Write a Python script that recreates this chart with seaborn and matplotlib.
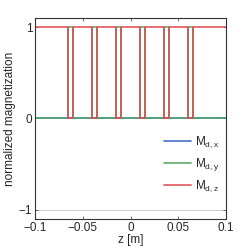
import matplotlib
matplotlib.use('Agg')
import matplotlib.pyplot as plt
import seaborn as sns
import numpy as np
import pandas as pd

# step edges (z in m) and component values after each edge
z_edges = [-0.1, -0.065, -0.06, -0.04, -0.035, -0.015, -0.01,
           0.01, 0.015, 0.035, 0.04, 0.06, 0.065, 0.1]
mdx = [0, 0, 0, 0, 0, 0, 0, 0, 0, 0, 0, 0, 0, 0]
mdy = [0, 1, 0, 1, 0, 1, 0, 1, 0, 1, 0, 1, 0, 0]
mdz = [1, 0, 1, 0, 1, 0, 1, 0, 1, 0, 1, 0, 1, 1]

labels = [r'M$_{\mathrm{d,x}}$', r'M$_{\mathrm{d,y}}$', r'M$_{\mathrm{d,z}}$']
colors = ['#3a66c4', '#52a762', '#df4a4f']

sns.set_style('ticks')
plt.rcParams['font.family'] = ['Liberation Sans', 'DejaVu Sans']
plt.rcParams['mathtext.fontset'] = 'custom'
plt.rcParams['mathtext.rm'] = 'Liberation Sans'
plt.rcParams['mathtext.it'] = 'Liberation Sans'

fig = plt.figure(figsize=(2.49, 2.49), dpi=100)
ax = fig.add_axes([35 / 249, 1 - 219 / 249, 191 / 249, 201 / 249])

ax.axhline(-1, color='#cccccc', lw=0.8, zorder=0)

for vals, lab, c in zip([mdx, mdy, mdz], labels, colors):
    df = pd.DataFrame({'z': z_edges, 'm': vals})
    sns.lineplot(data=df, x='z', y='m', ax=ax, color=c, lw=1.3, alpha=0.85,
                 drawstyle='steps-post', label=lab, estimator=None, sort=False)

ax.set_xlim(-0.1, 0.1)
ax.set_ylim(-1.1, 1.1)
ax.set_xticks([-0.1, -0.05, 0, 0.05, 0.1])
ax.set_xticklabels(['\u22120.1', '\u22120.05', '0', '0.05', '0.1'])
ax.set_yticks([-1, 0, 1])
ax.set_yticklabels(['\u22121', '0', '1'])
ax.tick_params(direction='in', length=2.5, width=0.6, labelsize=8.5, pad=2,
               top=True, right=True, color='#555555')
for s in ax.spines.values():
    s.set_linewidth(0.8)
    s.set_color('#333333')
ax.set_xlabel('z [m]', fontsize=8.5, labelpad=0)
ax.set_ylabel('normalized magnetization', fontsize=8.5, labelpad=2)

ax.legend(loc='lower right', bbox_to_anchor=(1.02, 0.07), frameon=False,
          fontsize=8.5, handlelength=2.3, handletextpad=0.3, labelspacing=0.5)

fig.savefig('out.png', dpi=100)
